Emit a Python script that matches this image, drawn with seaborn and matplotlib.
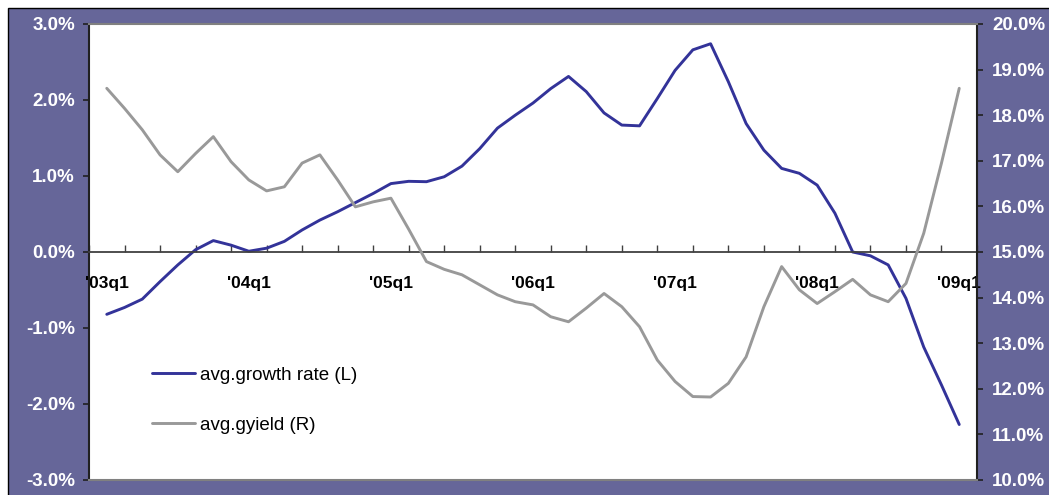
import numpy as np
import pandas as pd
import matplotlib
matplotlib.use("Agg")
import matplotlib.pyplot as plt
import seaborn as sns
from matplotlib.patches import Rectangle

# Half-quarter sample positions, 2003q1 .. 2009q1 (0 = '03q1)
quarter_pos = np.arange(0, 24.5, 0.5)

# Average growth rate, % (left axis)
growth_rate = [-0.82, -0.73, -0.62, -0.39, -0.17, 0.03, 0.15, 0.09, 0.01, 0.05,
               0.14, 0.29, 0.42, 0.53, 0.65, 0.77, 0.90, 0.93, 0.925, 0.99,
               1.13, 1.36, 1.63, 1.80, 1.96, 2.15, 2.31, 2.11, 1.83, 1.67,
               1.66, 2.02, 2.39, 2.66, 2.74, 2.24, 1.69, 1.34, 1.10, 1.035,
               0.88, 0.51, 0.0, -0.05, -0.17, -0.61, -1.25, -1.75, -2.27]

# Average gross yield, % (right axis)
gross_yield = [18.59, 18.15, 17.68, 17.13, 16.76, 17.16, 17.53, 16.98, 16.58, 16.34,
               16.43, 16.95, 17.13, 16.58, 15.99, 16.10, 16.18, 15.50, 14.79, 14.62,
               14.50, 14.28, 14.06, 13.91, 13.84, 13.58, 13.47, 13.77, 14.09, 13.80,
               13.36, 12.63, 12.16, 11.83, 11.82, 12.12, 12.70, 13.80, 14.68, 14.17,
               13.87, 14.13, 14.40, 14.06, 13.91, 14.31, 15.41, 16.95, 18.59]

year_ticks = [0, 4, 8, 12, 16, 20, 24]
year_labels = ["'03q1", "'04q1", "'05q1", "'06q1", "'07q1", "'08q1", "'09q1"]
left_ticks = [-3, -2, -1, 0, 1, 2, 3]
right_ticks = [10, 11, 12, 13, 14, 15, 16, 17, 18, 19, 20]

series_names = ["avg.growth rate (L)", "avg.gyield (R)"]

BLUE = "#333399"
GREY = "#999999"
FRAME = "#666699"

plt.rcParams["font.family"] = ["Liberation Sans", "DejaVu Sans"]

df = pd.DataFrame({"pos": quarter_pos, "growth": growth_rate, "gyield": gross_yield})

W, H = 1049, 495
fig = plt.figure(figsize=(W / 100, H / 100), dpi=100)
fig.patch.set_facecolor("white")

# Purple chart-area background with a thin black outline
fig.patches.append(Rectangle((7.5 / W, -0.1), 1.2, 1.1 - 7.5 / H,
                             transform=fig.transFigure, facecolor=FRAME,
                             edgecolor="black", linewidth=1.0, zorder=-10))

ax = fig.add_axes([89 / W, 15 / H, 888 / W, 456 / H])
ax.set_facecolor("white")

sns.lineplot(data=df, x="pos", y="growth", ax=ax, color=BLUE, linewidth=2.1,
             legend=False, solid_joinstyle="round", solid_capstyle="round")
ax2 = ax.twinx()
sns.lineplot(data=df, x="pos", y="gyield", ax=ax2, color=GREY, linewidth=2.1,
             legend=False, solid_joinstyle="round", solid_capstyle="round")

ax.set_xlim(-0.5, 24.5)
ax.set_ylim(-3, 3)
ax2.set_ylim(10, 20)
ax.set_xlabel("")
ax.set_ylabel("")
ax2.set_ylabel("")

# Category axis sits on the zero line of the left scale
ax.spines["bottom"].set_position(("data", 0))
ax.spines["bottom"].set_color("#404040")
ax.spines["bottom"].set_linewidth(1.3)
ax.spines["top"].set_visible(False)
ax.spines["right"].set_visible(False)
ax.spines["left"].set_color("#202020")
ax.spines["left"].set_linewidth(1.5)

ax2.spines["left"].set_visible(False)
ax2.spines["top"].set_color("#808080")
ax2.spines["bottom"].set_color("#808080")
ax2.spines["top"].set_linewidth(1.5)
ax2.spines["bottom"].set_linewidth(1.5)
ax2.spines["right"].set_color("#202020")
ax2.spines["right"].set_linewidth(1.5)

ax.set_xticks(year_ticks, labels=year_labels, fontweight="bold", fontsize=12.5,
              color="black")
ax.set_xticks(np.arange(-0.5, 25, 1), minor=True)
ax.tick_params(axis="x", which="major", length=0, pad=17)
ax.tick_params(axis="x", which="minor", direction="in", length=5, width=1.0,
               color="#404040")

ax.set_yticks(left_ticks, labels=[f"{v:.1f}%" for v in left_ticks],
              fontweight="bold", fontsize=13.5)
ax.tick_params(axis="y", direction="out", length=4, width=1.2, color="#202020",
               labelcolor="white", pad=6)

ax2.set_yticks(right_ticks, labels=[f"{v:.1f}%" for v in right_ticks],
               fontweight="bold", fontsize=13.5)
ax2.tick_params(axis="y", direction="out", length=4, width=1.2, color="#202020",
                labelcolor="white", pad=7)

handles = [ax.get_lines()[0], ax2.get_lines()[0]]
ax2.legend(handles, series_names, loc="upper left",
           bbox_to_anchor=((152 - 89) / 888, 0.249), frameon=False,
           fontsize=13.5, handlelength=2.3, handletextpad=0.25,
           labelspacing=1.77, borderpad=0, borderaxespad=0)

fig.savefig("out.png", dpi=100, facecolor=fig.get_facecolor())
